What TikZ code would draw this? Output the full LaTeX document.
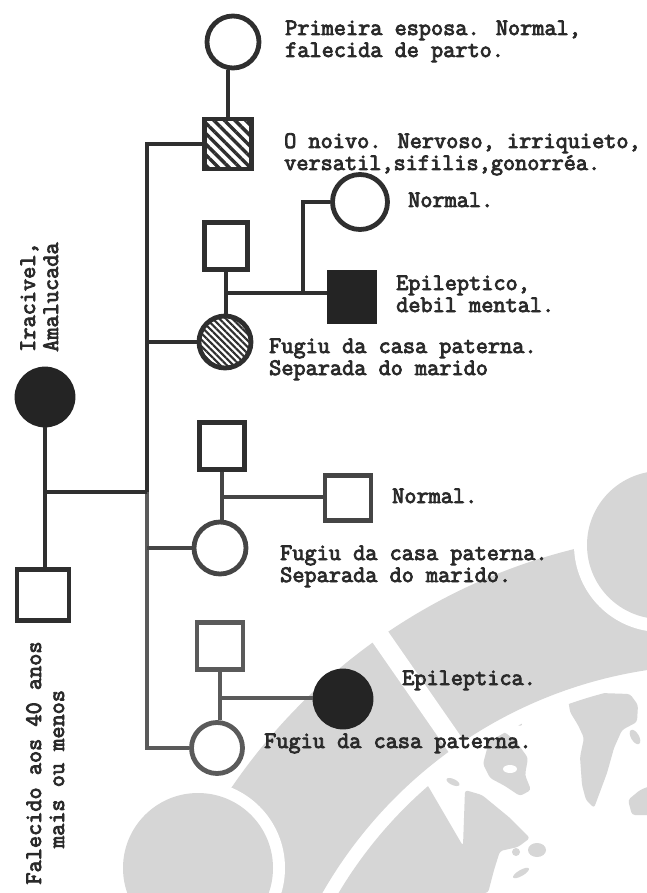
\documentclass[tikz,border=0pt]{standalone}
\usepackage{fontspec}
\newfontfamily\tw{Latin Modern Mono}[FakeBold=3.5]
\usetikzlibrary{patterns.meta}
\definecolor{inkA}{HTML}{2F2F2F}
\definecolor{inkC}{HTML}{454545}
\definecolor{inkB}{HTML}{5A5A5A}
\definecolor{solid}{HTML}{242424}
\definecolor{typeink}{HTML}{2A2A2A}
\definecolor{wm}{RGB}{214,214,214}
\begin{document}
\begin{tikzpicture}[x=1pt,y=-1pt,
  male/.style={draw, rectangle, inner sep=0pt, line width=4.8pt},
  female/.style={draw, circle, inner sep=0pt, line width=4.8pt},
  kin/.style={line width=4.8pt},
  note/.style={font=\tw\bfseries\fontsize{23.6}{24}\selectfont, text=typeink, anchor=base west, inner sep=0pt},
  vnote/.style={note, rotate=90},
  land/.style={wm, rounded corners=3pt},
]
\useasboundingbox (0,0) rectangle (647,893);
\fill[white] (0,0) rectangle (647,893);

% ---- light grey emblem in the background ----
\coordinate (G) at (715,1117);
\fill[wm, even odd rule] (G) circle[radius=585pt] (G) circle[radius=452pt];
\draw[white, line width=19pt] (463,756) -- (372,625);
\fill[white] (661,545) circle[radius=87pt];
\fill[wm] (661,545) circle[radius=74pt];
\fill[white] (198,868) circle[radius=87pt];
\fill[wm] (198,868) circle[radius=75pt];
\begin{scope}
  \clip (G) circle[radius=438pt];
  \fill[land] (300,893) -- (300,770) -- (418,772) -- (428,786) -- (463,846) -- (465,790)
    -- (482,795) -- (510,818) -- (530,838) -- (518,847) -- (500,851) -- (494,870)
    -- (488,893) -- cycle;
  \fill[land] (490,735) -- (505,732) -- (518,744) -- (528,758) -- (525,775) -- (531,790)
    -- (520,796) -- (505,786) -- (490,778) -- (483,764) -- (487,749) -- cycle;
  \fill[white] (510,769) ellipse[x radius=7pt, y radius=4pt];
  \fill[land] (568,698) -- (600,693) -- (630,694) -- (638,705) -- (637,722) -- (622,730)
    -- (614,748) -- (607,773) -- (594,808) -- (586,800) -- (582,785) -- (580,757)
    -- (584,738) -- (578,725) -- (570,712) -- cycle;
  \fill[land] (628,800) -- (640,790) -- (650,786) -- (650,815) -- (632,815) -- cycle;
  \fill[wm, rotate around={30:(635,737)}] (635,737) ellipse[x radius=4pt, y radius=8pt];
  \fill[wm, rotate around={-25:(453,782)}] (453,782) ellipse[x radius=7pt, y radius=3pt];
  \fill[wm, rotate around={-35:(516,721)}] (516,721) ellipse[x radius=7pt, y radius=3pt];
  \fill[wm, rotate around={-20:(537,710)}] (537,710) ellipse[x radius=7pt, y radius=3pt];
  \fill[wm] (516,852) circle[radius=4pt];
  \fill[wm] (537,850) ellipse[x radius=9pt, y radius=7pt];
  \fill[wm, rotate around={30:(521,873)}] (521,873) ellipse[x radius=9pt, y radius=3pt];
\end{scope}

% ---- pedigree ----
\coordinate (trunk) at (147,0);

\node[female, draw=inkA, minimum size=52pt] (wife1) at (233,42) {};
\node[male, draw=inkA, minimum width=47pt, minimum height=50pt,
  pattern={Lines[angle=-45,distance=7.5pt,line width=3.4pt]}, pattern color=inkA] (groom) at (228,144) {};

\node[female, draw=solid, fill=solid, minimum size=56pt] (mother) at (45,397) {};
\node[male, draw=inkA, minimum width=52pt, minimum height=51pt] (father) at (43,595) {};

\node[male, draw=inkA, minimum width=43pt, minimum height=47pt] (husb2) at (226,246) {};
\node[female, draw=inkA, minimum size=52pt,
  pattern={Lines[angle=-45,distance=4.6pt,line width=2.2pt]}, pattern color=inkA] (dau2) at (225,342) {};
\node[female, draw=inkA, minimum size=55pt] (normW) at (360,202) {};
\node[male, draw=solid, fill=solid, minimum width=46pt, minimum height=50pt] (epiS) at (352,297) {};

\node[male, draw=inkA, minimum width=45pt, minimum height=47pt] (husb3) at (222,446) {};
\node[female, draw=inkC, minimum size=52pt] (dau3) at (220,548) {};
\node[male, draw=inkC, minimum width=46pt, minimum height=45pt] (normS) at (348,498) {};

\node[male, draw=inkB, minimum width=46pt, minimum height=47pt] (husb4) at (220,646) {};
\node[female, draw=inkB, minimum size=51pt] (dau4) at (217,748) {};
\node[female, draw=solid, fill=solid, minimum size=56pt] (epiC) at (343,699) {};

\coordinate (kids) at (45,492);
\coordinate (m2) at (226,293);
\coordinate (n2) at (303,293);
\coordinate (m3) at (221,497);
\coordinate (m4) at (220,698);

\draw[kin, inkA] (groom.north) -- (groom.north |- wife1.south);
\draw[kin, inkA] (groom.west) -- (groom.west -| trunk) -- (kids -| trunk);
\draw[kin, inkB] (kids -| trunk) -- (dau4.west -| trunk) -- (dau4.west);
\draw[kin, inkA] (dau2.west -| trunk) -- (dau2.west);
\draw[kin, inkC] (dau3.west -| trunk) -- (dau3.west);

\draw[kin, inkA] (mother.south) -- (mother.south |- father.north);
\draw[kin, inkA] (kids) -- (kids -| trunk);

\draw[kin, inkA] (husb2.south) -- (husb2.south |- dau2.north);
\draw[kin, inkA] (m2) -- (m2 -| epiS.west);
\draw[kin, inkA] (normW.west) -| (n2);

\draw[kin, inkC] (husb3.south) -- (husb3.south |- dau3.north);
\draw[kin, inkC] (m3) -- (m3 -| normS.west);

\draw[kin, inkB] (husb4.south) -- (husb4.south |- dau4.north);
\draw[kin, inkB] (m4) -- (m4 -| epiC.west);

% ---- typed notes ----
\node[note] (t1a) at (285,35) {Primeira esposa. Normal,};
\node[note] (t1b) at (285,57) {falecida de parto.};
\node[note] (t2a) at (284,148) {O noivo. Nervoso, irriquieto,};
\node[note] (t2b) at (284,170) {versatil,sifilis,gonorréa.};
\node[note] (t3) at (408,207) {Normal.};
\node[note] (t4a) at (396,290) {Epileptico,};
\node[note] (t4b) at (396,312) {debil mental.};
\node[note] (t5a) at (269,353) {Fugiu da casa paterna.};
\node[note] (t5b) at (269,375) {Separada do marido};
\node[note] (t6) at (392,503) {Normal.};
\node[note] (t7a) at (280,560) {Fugiu da casa paterna.};
\node[note] (t7b) at (280,582) {Separada do marido.};
\node[note] (t8) at (402,685) {Epileptica.};
\node[note] (t9) at (264,748) {Fugiu da casa paterna.};

\node[vnote] (iraA) at (35,352) {Iracivel,};
\node[vnote] (iraB) at (58,352) {Amalucada};
\node[vnote, anchor=base] (falA) at (41,763) {Falecido aos 40 anos};
\node[vnote, anchor=base] (falB) at (64,769) {mais ou menos};
\end{tikzpicture}
\end{document}
